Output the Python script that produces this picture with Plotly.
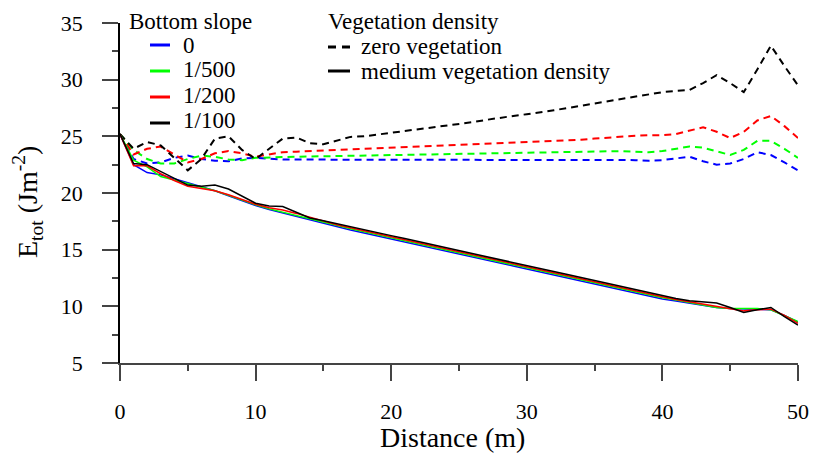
import plotly.graph_objects as go

# Distance along the channel (m)
distance = list(range(0, 51))

# Total wave energy E_tot (J m^-2), zero vegetation (dashed)
e_zero_s0 = [25.2, 23.0, 22.6, 22.7, 23.1, 23.3, 23.0, 22.85, 22.8, 23.05,
             23.1, 23.0, 22.95, 22.95, 22.95, 22.95, 22.95, 22.95, 22.95, 22.95,
             22.95, 22.95, 22.95, 22.95, 22.95, 22.95, 22.95, 22.95, 22.95, 22.95,
             22.95, 22.95, 22.95, 22.95, 22.95, 22.95, 22.95, 22.9, 22.9, 22.85,
             22.9, 23.05, 23.2, 22.8, 22.5, 22.6, 23.0, 23.6, 23.35, 22.7,
             22.0]
e_zero_s500 = [25.2, 23.8, 23.0, 22.6, 22.6, 23.0, 23.3, 23.2, 22.95, 22.9,
               23.1, 23.15, 23.2, 23.2, 23.22, 23.24, 23.25, 23.27, 23.28, 23.3,
               23.31, 23.33, 23.35, 23.37, 23.38, 23.4, 23.42, 23.44, 23.46, 23.48,
               23.5, 23.52, 23.54, 23.56, 23.6, 23.62, 23.65, 23.7, 23.65, 23.6,
               23.7, 23.9, 24.1, 24.0, 23.7, 23.35, 23.8, 24.6, 24.6, 23.9,
               23.1]
e_zero_s200 = [25.2, 23.4, 23.9, 24.1, 23.4, 22.7, 23.0, 23.5, 23.7, 23.5,
               23.2, 23.4, 23.6, 23.65, 23.7, 23.72, 23.75, 23.8, 23.85, 23.9,
               23.95, 24.0, 24.05, 24.1, 24.15, 24.2, 24.25, 24.3, 24.35, 24.4,
               24.45, 24.5, 24.55, 24.6, 24.7, 24.8, 24.9, 25.0, 25.05, 25.1,
               25.1, 25.2, 25.5, 25.8, 25.4, 24.85, 25.4, 26.4, 26.8, 25.9,
               24.85]
e_zero_s100 = [25.2, 23.9, 24.5, 24.2, 23.1, 22.0, 23.0, 24.8, 25.0, 23.8,
               23.0, 23.9, 24.8, 24.9, 24.4, 24.3, 24.6, 24.95, 25.0, 25.15,
               25.3, 25.45, 25.6, 25.8, 25.95, 26.1, 26.25, 26.45, 26.65, 26.8,
               26.95, 27.1, 27.3, 27.5, 27.7, 27.9, 28.1, 28.3, 28.5, 28.75,
               28.9, 29.0, 29.1, 29.7, 30.4, 29.7, 28.9, 30.9, 33.0, 31.2,
               29.5]

# Total wave energy E_tot (J m^-2), medium vegetation density (solid)
e_med_s0 = [25.2, 22.5, 21.8, 21.6, 21.25, 20.9, 20.6, 20.2, 19.75, 19.3,
            18.9, 18.55, 18.25, 17.95, 17.65, 17.35, 17.0, 16.74, 16.47, 16.2,
            15.94, 15.68, 15.41, 15.15, 14.88, 14.62, 14.35, 14.09, 13.82, 13.56,
            13.3, 13.03, 12.77, 12.5, 12.24, 11.97, 11.71, 11.44, 11.18, 10.92,
            10.65, 10.48, 10.3, 10.1, 9.9, 9.8, 9.75, 9.75, 9.7, 9.2,
            8.6]
e_med_s500 = [25.2, 22.9, 22.3, 21.45, 21.15, 20.85, 20.55, 20.2, 19.8, 19.35,
              18.95, 18.6, 18.3, 18.0, 17.7, 17.4, 17.1, 16.84, 16.57, 16.3,
              16.04, 15.78, 15.51, 15.25, 14.98, 14.72, 14.45, 14.19, 13.92, 13.66,
              13.4, 13.13, 12.87, 12.6, 12.34, 12.07, 11.81, 11.54, 11.28, 11.02,
              10.75, 10.55, 10.35, 10.12, 9.9, 9.8, 9.8, 9.8, 9.7, 9.2,
              8.65]
e_med_s200 = [25.2, 22.4, 22.4, 21.7, 21.1, 20.6, 20.4, 20.2, 19.85, 19.4,
              19.0, 18.7, 18.5, 18.2, 17.85, 17.55, 17.2, 16.94, 16.67, 16.4,
              16.14, 15.88, 15.61, 15.35, 15.08, 14.82, 14.55, 14.29, 14.02, 13.76,
              13.5, 13.23, 12.97, 12.7, 12.44, 12.17, 11.91, 11.64, 11.38, 11.12,
              10.85, 10.6, 10.4, 10.2, 10.05, 9.8, 9.6, 9.7, 9.75, 9.2,
              8.5]
e_med_s100 = [25.2, 22.6, 22.5, 21.9, 21.3, 20.7, 20.6, 20.7, 20.35, 19.7,
              19.1, 18.85, 18.8, 18.3, 17.8, 17.55, 17.3, 17.04, 16.77, 16.5,
              16.24, 15.98, 15.71, 15.45, 15.18, 14.92, 14.65, 14.39, 14.12, 13.86,
              13.6, 13.33, 13.07, 12.8, 12.54, 12.27, 12.01, 11.74, 11.48, 11.22,
              10.95, 10.7, 10.5, 10.4, 10.3, 9.9, 9.45, 9.7, 9.9, 9.1,
              8.35]

slope_labels = ["0", "1/500", "1/200", "1/100"]
slope_colors = ["#0000ff", "#00ff00", "#ff0000", "#000000"]
zero_series = [e_zero_s0, e_zero_s500, e_zero_s200, e_zero_s100]
med_series = [e_med_s0, e_med_s500, e_med_s200, e_med_s100]

density_labels = ["zero vegetation", "medium vegetation density"]
density_dashes = ["7px,5px", "solid"]

FONT = "Liberation Serif"
W, H = 813, 455
ML, MR, MT, MB = 120, 15, 23, 92
PW, PH = W - ML - MR, H - MT - MB


def px(x):
    return (x - ML) / PW


def py(y):
    return (H - MB - y) / PH


fig = go.Figure()

for name, color, ys in zip(slope_labels, slope_colors, zero_series):
    fig.add_trace(go.Scatter(x=distance, y=ys, mode="lines", name=name,
                             line=dict(color=color, width=2, dash=density_dashes[0]),
                             showlegend=False))
for name, color, ys in zip(slope_labels, slope_colors, med_series):
    fig.add_trace(go.Scatter(x=distance, y=ys, mode="lines", name=name,
                             line=dict(color=color, width=1.5),
                             showlegend=False))

KEY = dict(family=FONT, size=23, color="black")
TICK = dict(family=FONT, size=22, color="black")

# Key: bottom slope (colours)
annotations = [dict(x=px(127), y=py(21), xref="paper", yref="paper",
                    text="Bottom slope", showarrow=False, xanchor="left",
                    yanchor="middle", font=KEY)]
shapes = []
sym_y = [45, 71, 97, 123]
txt_y = [45, 70, 95, 120]
for lab, col, sy, ty in zip(slope_labels, slope_colors, sym_y, txt_y):
    shapes.append(dict(type="line", xref="paper", yref="paper",
                       x0=px(150), x1=px(170), y0=py(sy), y1=py(sy),
                       line=dict(color=col, width=3)))
    annotations.append(dict(x=px(181), y=py(ty), xref="paper", yref="paper",
                            text=lab, showarrow=False, xanchor="left", yanchor="middle",
                            font=KEY))

# Key: vegetation density (line style)
annotations.append(dict(x=px(326), y=py(21), xref="paper", yref="paper",
                        text="Vegetation density", showarrow=False, xanchor="left",
                        yanchor="middle", font=KEY))
for lab, dash, sy in zip(density_labels, density_dashes, [47, 71]):
    shapes.append(dict(type="line", xref="paper", yref="paper",
                       x0=px(328), x1=px(350), y0=py(sy), y1=py(sy),
                       line=dict(color="black", width=3,
                                 dash="8px,6px" if dash != "solid" else "solid")))
    annotations.append(dict(x=px(359), y=py(sy), xref="paper", yref="paper",
                            text=lab, showarrow=False, xanchor="left", yanchor="middle",
                            font=KEY))

# Axis titles
annotations.append(dict(x=px(452), y=py(437), xref="paper", yref="paper",
                        text="Distance (m)", showarrow=False, xanchor="center",
                        yanchor="middle", font=dict(family=FONT, size=28, color="black")))
annotations.append(dict(x=px(27), y=py(202), xref="paper", yref="paper",
                        text="E<sub>tot</sub> (Jm<sup>-2</sup>)", textangle=-90,
                        showarrow=False, xanchor="center", yanchor="middle",
                        font=dict(family=FONT, size=28, color="black")))

fig.update_layout(
    width=W, height=H,
    margin=dict(l=ML, r=MR, t=MT, b=MB),
    paper_bgcolor="white", plot_bgcolor="white",
    showlegend=False,
    font=dict(family=FONT, size=22, color="black"),
    annotations=annotations,
    shapes=shapes,
)
fig.update_xaxes(range=[0, 50], tickvals=[0, 10, 20, 30, 40, 50],
                 automargin=False, tickfont=TICK,
                 showgrid=False, zeroline=False,
                 showline=True, linecolor="#444", linewidth=1.5,
                 ticks="outside", ticklen=16, tickwidth=1.5, tickcolor="#444",
                 ticklabelstandoff=12,
                 minor=dict(tickvals=[5, 15, 25, 35, 45], ticks="outside",
                            ticklen=6, tickwidth=1.5, tickcolor="#444"))
fig.update_yaxes(range=[5, 35], tickvals=[5, 10, 15, 20, 25, 30, 35],
                 automargin=False, tickfont=TICK,
                 showgrid=False, zeroline=False,
                 showline=True, linecolor="black", linewidth=1.5,
                 ticks="outside", ticklen=16, tickwidth=1.5, tickcolor="#444",
                 ticklabelstandoff=15,
                 minor=dict(tickvals=[7.5, 12.5, 17.5, 22.5, 27.5, 32.5], ticks="outside",
                            ticklen=6, tickwidth=1.5, tickcolor="#444"))

fig.write_html("out.html")
